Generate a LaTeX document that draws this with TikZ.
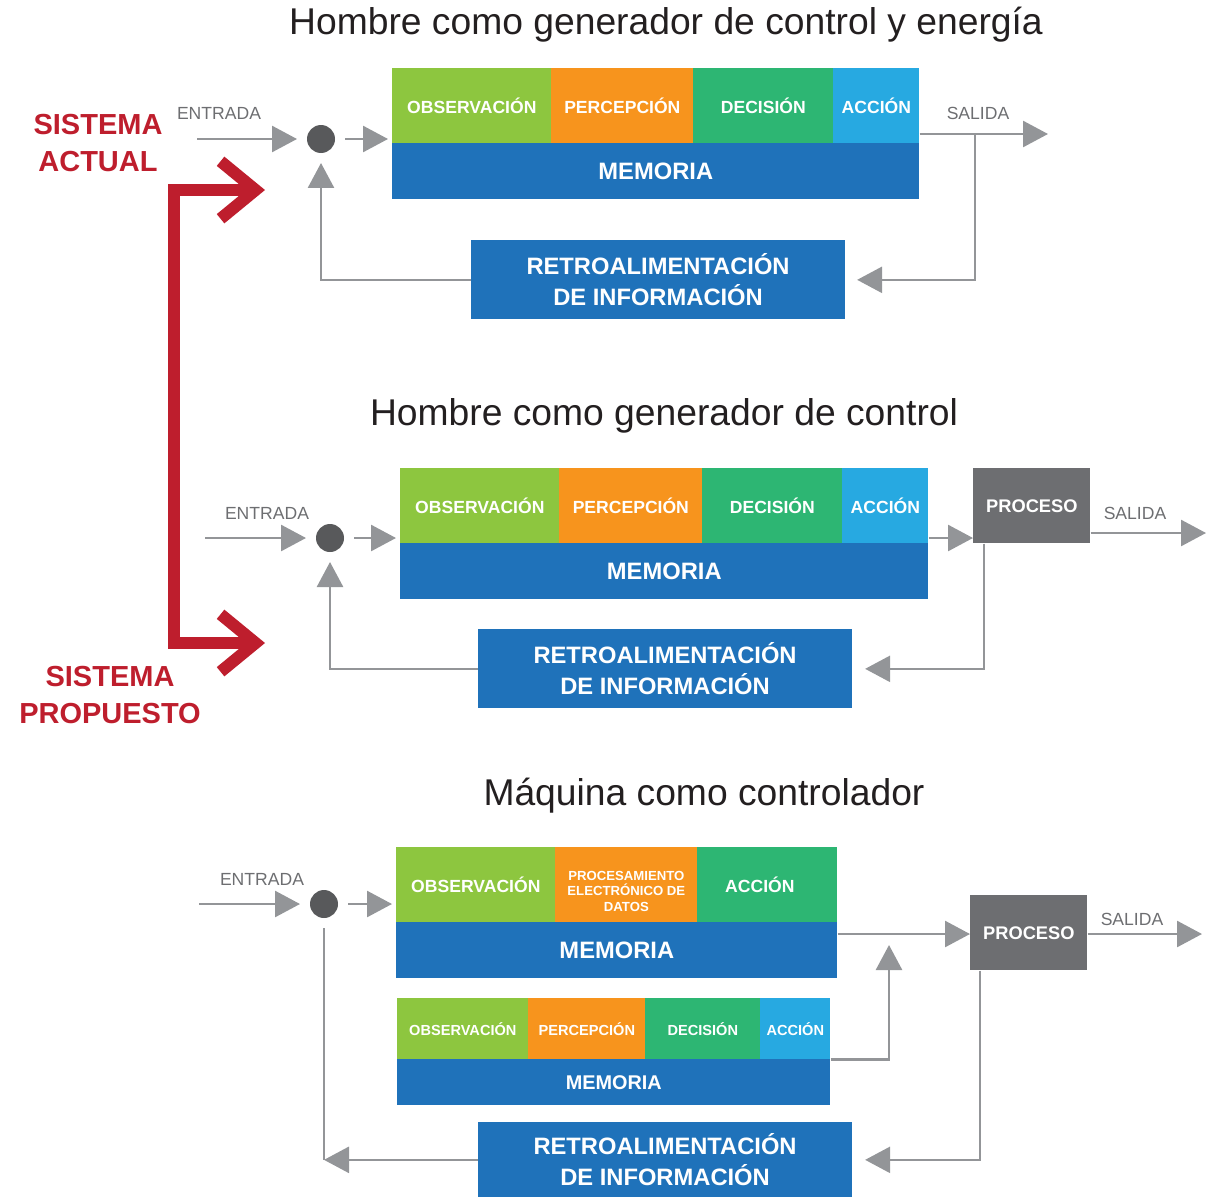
\documentclass[tikz,border=0pt]{standalone}
\usepackage{fontspec}
\setmainfont{Liberation Sans}
\usetikzlibrary{arrows.meta,positioning}
\definecolor{obsgreen}{HTML}{8DC63F}
\definecolor{perorange}{HTML}{F7941D}
\definecolor{decgreen}{HTML}{2DB673}
\definecolor{acccyan}{HTML}{27A9E1}
\definecolor{memblue}{HTML}{1F72BA}
\definecolor{procgray}{HTML}{6D6E71}
\definecolor{linegray}{HTML}{939598}
\definecolor{dotgray}{HTML}{58595B}
\definecolor{sysred}{HTML}{BE1E2D}
\definecolor{headblack}{HTML}{231F20}
\tikzset{cell/.style = {anchor=north west, inner sep=0, minimum height=1.5cm, text=white, align=center, font=\bfseries\fontsize{10}{12}\selectfont}}
\tikzset{smallcell/.style = {cell, minimum height=1.22cm, font=\bfseries\fontsize{8.3}{10}\selectfont}}
\tikzset{band/.style = {cell, minimum height=1.12cm, fill=memblue, font=\bfseries\fontsize{13.5}{16}\selectfont}}
\tikzset{retro/.style = {band, minimum height=1.58cm, minimum width=7.47cm, font=\bfseries\fontsize{13.5}{17.6}\selectfont}}
\tikzset{proc/.style = {cell, fill=procgray, minimum width=2.34cm, font=\bfseries\fontsize{10.4}{12}\selectfont}}
\tikzset{sumdot/.style = {circle, fill=dotgray, minimum size=0.56cm, inner sep=0, outer sep=0.2cm}}
\tikzset{flow/.style = {draw=linegray, line width=1.5pt, -{Triangle[length=0.5cm,width=0.52cm]}}}
\tikzset{flowline/.style = {draw=linegray, line width=1.5pt}}
\tikzset{lbl/.style = {text=procgray, font=\fontsize{10}{12}\selectfont}}
\tikzset{heading/.style = {text=headblack, font=\fontsize{21.2}{25}\selectfont}}
\tikzset{syslbl/.style = {text=sysred, align=center, font=\bfseries\fontsize{16.5}{21}\selectfont}}

\begin{document}
\begin{tikzpicture}[x=0.02cm, y=-0.02cm]
  \useasboundingbox (0,0) rectangle (1213,1197);

  % hombre: control y energia
  \node[heading] (t1) at (666,25) {Hombre como generador de control y energía};
  \node[cell, fill=obsgreen, minimum width=3.18cm] (obs1) at (392,68) {OBSERVACIÓN};
  \node[cell, fill=perorange, minimum width=2.84cm] (per1) at (551,68) {PERCEPCIÓN};
  \node[cell, fill=decgreen, minimum width=2.8cm] (dec1) at (693,68) {DECISIÓN};
  \node[cell, fill=acccyan, minimum width=1.72cm] (acc1) at (833,68) {ACCIÓN};
  \node[band, minimum width=10.54cm] (mem1) at (392,143) {MEMORIA};
  \node[retro] (retro1) at (471,240) {RETROALIMENTACIÓN\\DE INFORMACIÓN};
  \node[sumdot] (dot1) at (321,139) {};
  \coordinate (in1) at (197,139);
  \coordinate (out1) at (1048,134);
  \coordinate (br1) at (975,134);
  \node[lbl] (ent1) at (219,113) {ENTRADA};
  \node[lbl] (sal1) at (978,113) {SALIDA};

  \draw[flow] (in1) -- (dot1);
  \draw[flow] (dot1) -- ([xshift=-0.08cm]dot1 -| obs1.west);
  \draw[flow] (acc1.east |- out1) -- (out1);
  \draw[flow, shorten >=0.24cm] (br1) |- (retro1.east);
  \draw[flow] (retro1.west) -| (dot1);

  % hombre: control
  \node[heading] (t2) at (664,416) {Hombre como generador de control};
  \node[cell, fill=obsgreen, minimum width=3.18cm] (obs2) at (400,468) {OBSERVACIÓN};
  \node[cell, fill=perorange, minimum width=2.86cm] (per2) at (559,468) {PERCEPCIÓN};
  \node[cell, fill=decgreen, minimum width=2.8cm] (dec2) at (702,468) {DECISIÓN};
  \node[cell, fill=acccyan, minimum width=1.72cm] (acc2) at (842,468) {ACCIÓN};
  \node[band, minimum width=10.56cm] (mem2) at (400,543) {MEMORIA};
  \node[proc] (proc2) at (973,468) {PROCESO};
  \node[retro] (retro2) at (478,629) {RETROALIMENTACIÓN\\DE INFORMACIÓN};
  \node[sumdot] (dot2) at (330,538) {};
  \coordinate (in2) at (205,538);
  \coordinate (out2) at (1206,533);
  \node[lbl] (ent2) at (267,513) {ENTRADA};
  \node[lbl] (sal2) at (1135,513) {SALIDA};

  \draw[flow] (in2) -- (dot2);
  \draw[flow] (dot2) -- ([xshift=-0.08cm]dot2 -| obs2.west);
  \draw[flow] (dot2 -| acc2.east) -- (dot2 -| proc2.west);
  \draw[flow] (out2 -| proc2.east) -- (out2);
  \draw[flow, shorten >=0.26cm] ([xshift=0.22cm]proc2.south west) |- (retro2.east);
  \draw[flow] (retro2.west) -| (dot2);

  % maquina
  \node[heading] (t3) at (704,796) {Máquina como controlador};
  \node[cell, fill=obsgreen, minimum width=3.18cm] (obs3) at (396,847) {OBSERVACIÓN};
  \node[cell, fill=perorange, minimum width=2.84cm, text height=1.05cm, font=\bfseries\fontsize{7.5}{8.8}\selectfont] (pro3) at (555,847) {PROCESAMIENTO\\ELECTRÓNICO DE\\DATOS};
  \node[cell, fill=decgreen, minimum width=2.8cm] (acc3) at (697,847) {ACCIÓN\hspace{0.3cm}};
  \node[band, minimum width=8.82cm] (mem3) at (396,922) {MEMORIA};
  \node[proc] (proc3) at (970,895) {PROCESO};
  \node[smallcell, fill=obsgreen, minimum width=2.62cm] (obs4) at (397,998) {OBSERVACIÓN};
  \node[smallcell, fill=perorange, minimum width=2.34cm] (per4) at (528,998) {PERCEPCIÓN};
  \node[smallcell, fill=decgreen, minimum width=2.3cm] (dec4) at (645,998) {DECISIÓN};
  \node[smallcell, fill=acccyan, minimum width=1.4cm] (acc4) at (760,998) {ACCIÓN};
  \node[band, minimum width=8.66cm, minimum height=0.92cm, font=\bfseries\fontsize{11.3}{13}\selectfont] (mem4) at (397,1059) {MEMORIA};
  \node[retro, minimum height=1.5cm] (retro3) at (478,1122) {RETROALIMENTACIÓN\\DE INFORMACIÓN};
  \node[sumdot] (dot3) at (324,904) {};
  \coordinate (in3) at (199,904);
  \coordinate (out3) at (1202,934);
  \coordinate (j3) at (889,945);
  \node[lbl] (ent3) at (262,879) {ENTRADA};
  \node[lbl] (sal3) at (1132,919) {SALIDA};

  \draw[flow] (in3) -- (dot3);
  \draw[flow] (dot3) -- ([xshift=-0.08cm]dot3 -| obs3.west);
  \draw[flow] (mem3.east |- out3) -- (out3 -| proc3.west);
  \draw[flow] (acc4.south east) -| (j3);
  \draw[flow] (out3 -| proc3.east) -- (out3);
  \draw[flow, shorten >=0.26cm] ([xshift=0.2cm]proc3.south west) |- (retro3.east);
  \draw[flowline] (dot3) -- (dot3 |- retro3.west);
  \draw[flow] (retro3.west) -- (dot3 |- retro3.west);

  % actual -> propuesto
  \node[syslbl] (act) at (98,143) {SISTEMA\\ACTUAL};
  \node[syslbl] (prop) at (110,695) {SISTEMA\\PROPUESTO};
  \coordinate (tipA) at (265,190);
  \coordinate (tipB) at (265,643);
  \draw[sysred, line width=0.24cm, line join=miter,
        {Straight Barb[length=0.7cm,width=1.15cm]}-{Straight Barb[length=0.7cm,width=1.15cm]}]
    (tipA) -- (174,190) -- (174,643) -- (tipB);
\end{tikzpicture}
\end{document}
